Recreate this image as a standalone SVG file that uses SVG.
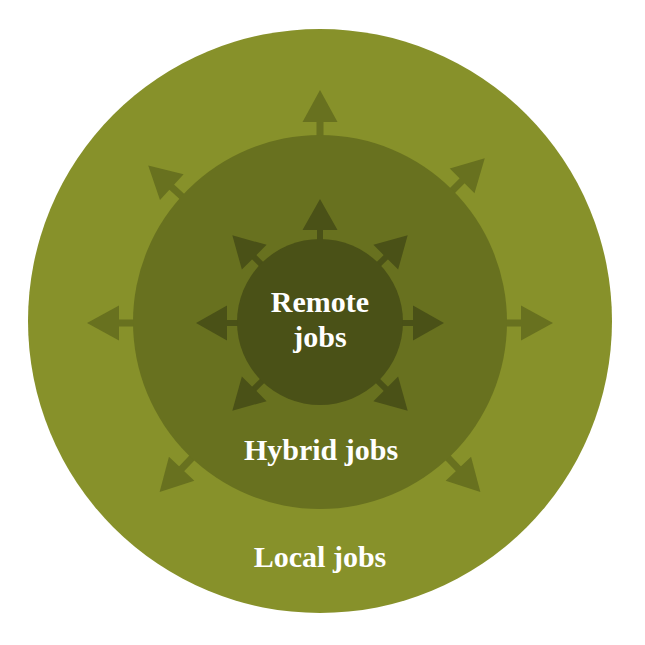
<svg xmlns="http://www.w3.org/2000/svg" width="645" height="645" viewBox="0 0 645 645">
  <style>
    .lbl { font-family: "Liberation Serif", "Times New Roman", serif; font-weight: bold; font-size: 30px; fill: #ffffff; text-anchor: middle; }
    .arr-outer { fill: #68711f; }
    .arr-inner { fill: #4a5117; }
  </style>
  <defs>
    <g id="arrowOuter">
      <rect x="-3.5" y="-206" width="7" height="24"/>
      <polygon points="0,-233 17.5,-201 -17.5,-201"/>
    </g>
    <g id="arrowInner">
      <rect x="-3" y="-96" width="6" height="16"/>
      <polygon points="0,-124 17.5,-93 -17.5,-93"/>
    </g>
  </defs>
  <g id="local-jobs">
    <circle cx="320" cy="321" r="292" fill="#87912a"/>
  </g>
  <g id="connectors">
    <g class="arr-outer" transform="translate(320,323)">
      <use href="#arrowOuter" transform="rotate(0)"/>
      <use href="#arrowOuter" transform="rotate(45)"/>
      <use href="#arrowOuter" transform="rotate(90)"/>
      <use href="#arrowOuter" transform="rotate(136.5)"/>
      <use href="#arrowOuter" transform="rotate(223.5)"/>
      <use href="#arrowOuter" transform="rotate(270)"/>
      <use href="#arrowOuter" transform="rotate(312.5)"/>
    </g>
  </g>
  <g id="hybrid-jobs">
    <circle cx="320" cy="322" r="187" fill="#68711f"/>
  </g>
  <g id="connectors-inner">
    <g class="arr-inner" transform="translate(320,323)">
      <use href="#arrowInner" transform="rotate(0)"/>
      <use href="#arrowInner" transform="rotate(45)"/>
      <use href="#arrowInner" transform="rotate(90)"/>
      <use href="#arrowInner" transform="rotate(135)"/>
      <use href="#arrowInner" transform="rotate(225)"/>
      <use href="#arrowInner" transform="rotate(270)"/>
      <use href="#arrowInner" transform="rotate(315)"/>
    </g>
  </g>
  <g id="remote-jobs">
    <circle cx="320" cy="322" r="83" fill="#4a5117"/>
    <text class="lbl" x="320" y="312">Remote</text>
    <text class="lbl" x="320" y="347">jobs</text>
  </g>
  <g id="hybrid-label">
    <text class="lbl" x="321" y="460">Hybrid jobs</text>
  </g>
  <g id="local-label">
    <text class="lbl" x="320" y="567">Local jobs</text>
  </g>
</svg>
